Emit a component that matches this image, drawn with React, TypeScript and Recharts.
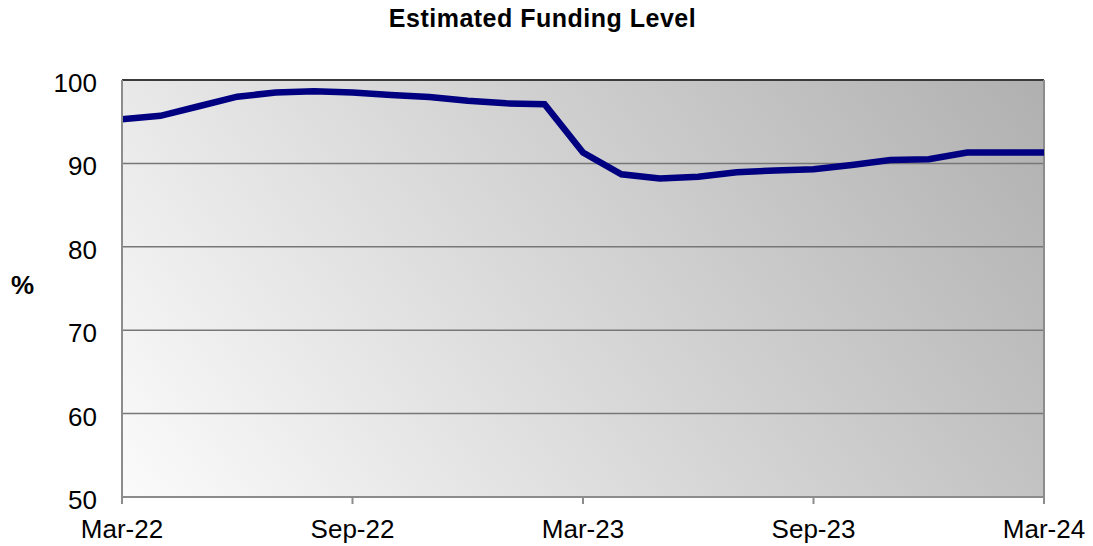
import React from 'react';
import { LineChart, Line, XAxis, YAxis, CartesianGrid, ReferenceLine } from 'recharts';

const months: string[] = [
  'Mar-22', 'Apr-22', 'May-22', 'Jun-22', 'Jul-22', 'Aug-22', 'Sep-22', 'Oct-22', 'Nov-22', 'Dec-22', 'Jan-23', 'Feb-23',
  'Mar-23', 'Apr-23', 'May-23', 'Jun-23', 'Jul-23', 'Aug-23', 'Sep-23', 'Oct-23', 'Nov-23', 'Dec-23', 'Jan-24', 'Feb-24',
  'Mar-24',
];

const fundingLevel: number[] = [
  95.3, 95.7, 96.85, 98.0, 98.5, 98.65, 98.5, 98.2, 97.95, 97.5, 97.2, 97.1,
  91.3, 88.7, 88.2, 88.4, 88.95, 89.15, 89.3, 89.8, 90.4, 90.5, 91.3, 91.3,
  91.3,
];

const yTicks: number[] = [50, 60, 70, 80, 90, 100];

const data = months.map((m, i) => ({ month: m, value: fundingLevel[i] }));

const FONT = '"Liberation Sans", Arial, Helvetica, sans-serif';

const XTick = (props: any) => {
  const { x, y, payload } = props;
  return (
    <text x={x} y={y + 32} textAnchor="middle" fontSize={26} fontFamily={FONT} fill="#000">
      {payload.value}
    </text>
  );
};

const YTick = (props: any) => {
  const { x, y, payload } = props;
  return (
    <text x={x} y={y + 12} textAnchor="end" fontSize={26} fontFamily={FONT} fill="#000">
      {payload.value}
    </text>
  );
};

export default function App() {
  return (
    <div style={{ position: 'absolute', left: 0, top: 0, width: 1093, height: 546, background: '#fff', fontFamily: FONT }}>
      <div
        style={{
          position: 'absolute',
          left: 0,
          width: 1085,
          top: 4,
          textAlign: 'center',
          fontSize: 25,
          fontWeight: 'bold',
          letterSpacing: 0.5,
          lineHeight: '28px',
          color: '#000',
        }}
      >
        Estimated Funding Level
      </div>
      <div
        style={{
          position: 'absolute',
          left: 11,
          top: 270,
          fontSize: 26,
          fontWeight: 'bold',
          lineHeight: '30px',
          color: '#000',
        }}
      >
        %
      </div>
      <div style={{ position: 'absolute', left: 0, top: 0 }}>
        <LineChart width={1093} height={546} data={data} margin={{ top: 80, right: 49, bottom: 0, left: 0 }}>
          <defs>
            <linearGradient id="bgGrad" x1="0" y1="1" x2="1.2" y2="0.6">
              <stop offset="0%" stopColor="#fbfbfb" />
              <stop offset="100%" stopColor="#b0b0b0" />
            </linearGradient>
          </defs>
          <CartesianGrid vertical={false} fill="url(#bgGrad)" fillOpacity={1} stroke="#777" strokeWidth={1.5} />
          <XAxis
            dataKey="month"
            interval={5}
            height={49}
            tickSize={7}
            tickMargin={2}
            tick={<XTick />}
            axisLine={{ stroke: '#8c8c8c', strokeWidth: 2 }}
            tickLine={{ stroke: '#8c8c8c', strokeWidth: 2 }}
          />
          <YAxis
            domain={[50, 100]}
            ticks={yTicks}
            width={122}
            tickSize={0}
            tickMargin={25}
            tickLine={false}
            tick={<YTick />}
            axisLine={{ stroke: '#8c8c8c', strokeWidth: 2 }}
          />
          <ReferenceLine y={100} stroke="#3a3a3a" strokeWidth={2} />
          <ReferenceLine x="Mar-24" stroke="#8c8c8c" strokeWidth={2} />
          <Line
            type="linear"
            dataKey="value"
            stroke="#000080"
            strokeWidth={6.5}
            dot={false}
            activeDot={false}
            isAnimationActive={false}
          />
        </LineChart>
      </div>
    </div>
  );
}
